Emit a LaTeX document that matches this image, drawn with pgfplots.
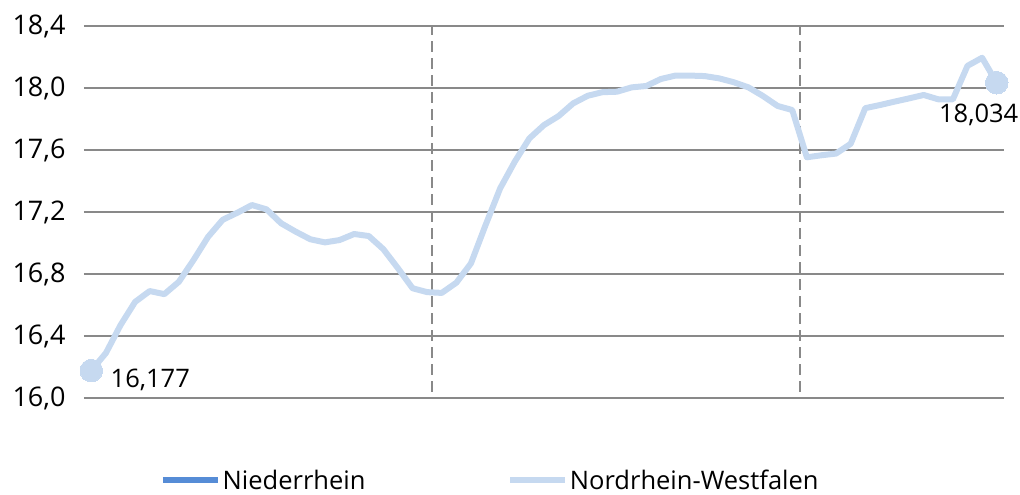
\documentclass[border=0pt]{standalone}
\usepackage{pgfplots}
\pgfplotsset{compat=1.18}
\usepackage{fontspec}
\setmainfont{Open Sans}
\definecolor{nrw}{RGB}{198,217,240}
\definecolor{nr}{RGB}{86,140,214}
\definecolor{gridc}{RGB}{137,137,137}

\begin{document}
\begin{tikzpicture}
\useasboundingbox (-84pt,-97pt) rectangle (936pt,398pt);
\begin{axis}[
  at={(0,0)}, anchor=south west,
  scale only axis, width=920pt, height=372pt,
  xmin=-0.5, xmax=62.5, ymin=16, ymax=18.4,
  ytick={16,16.4,16.8,17.2,17.6,18,18.4},
  xtick=\empty,
  axis line style={draw=none},
  major tick length=0pt,
  ymajorgrids, grid style={gridc, line width=2pt},
  yticklabel style={font=\fontsize{27}{32}\selectfont, xshift=-15pt},
  /pgf/number format/.cd, fixed, fixed zerofill, precision=1, use comma, assume math mode=true,
  /pgfplots/.cd,
  clip=false,
  legend style={at={(rel axis cs:0.0826,-0.22)}, anchor=west, draw=none, fill=none,
    inner sep=0pt, legend columns=2, font=\fontsize{25.5}{30}\selectfont,
    nodes={text depth=0pt},
    /tikz/every even column/.append style={column sep=140pt}},
  legend image code/.code={\draw[#1, line width=5.5pt] (0pt,0pt) -- (55pt,0pt);},
]
\draw[gridc, line width=2pt, dash pattern=on 11pt off 6pt] (axis cs:23.3,16.04) -- (axis cs:23.3,18.4);
\draw[gridc, line width=2pt, dash pattern=on 11pt off 6pt] (axis cs:48.5,16.04) -- (axis cs:48.5,18.4);

\addlegendimage{nr}
\addlegendentry{Niederrhein}

\addplot[nrw, line width=6pt, line join=round, mark=*, mark size=11.3pt,
  mark options={fill=nrw, draw=nrw, line width=0pt}, mark indices={1,63}] coordinates {
(0,16.177) (1,16.29) (2,16.47) (3,16.62) (4,16.69) (5,16.67) (6,16.75) (7,16.89)
(8,17.04) (9,17.15) (10,17.195) (11,17.245) (12,17.217) (13,17.127) (14,17.073)
(15,17.024) (16,17.004) (17,17.019) (18,17.058) (19,17.045) (20,16.96) (21,16.837)
(22,16.708) (23,16.683) (24,16.678) (25,16.744) (26,16.869) (27,17.116) (28,17.353)
(29,17.525) (30,17.675) (31,17.761) (32,17.819) (33,17.901) (34,17.95) (35,17.973)
(36,17.976) (37,18.004) (38,18.013) (39,18.058) (40,18.08) (41,18.08) (42,18.077)
(43,18.062) (44,18.037) (45,18.004) (46,17.948) (47,17.884) (48,17.858) (49,17.553)
(50,17.566) (51,17.577) (52,17.64) (53,17.87) (54,17.89) (55,17.912) (56,17.933)
(57,17.955) (58,17.927) (59,17.927) (60,18.143) (61,18.195) (62,18.034)
};
\addlegendentry{Nordrhein-Westfalen}

\node[font=\fontsize{25.5}{30}\selectfont, xshift=59pt, yshift=-9pt] at (axis cs:0,16.177) {16,177};
\node[font=\fontsize{25.5}{30}\selectfont, xshift=-18pt, yshift=-32pt] at (axis cs:62,18.034) {18,034};
\end{axis}
\end{tikzpicture}
\end{document}
